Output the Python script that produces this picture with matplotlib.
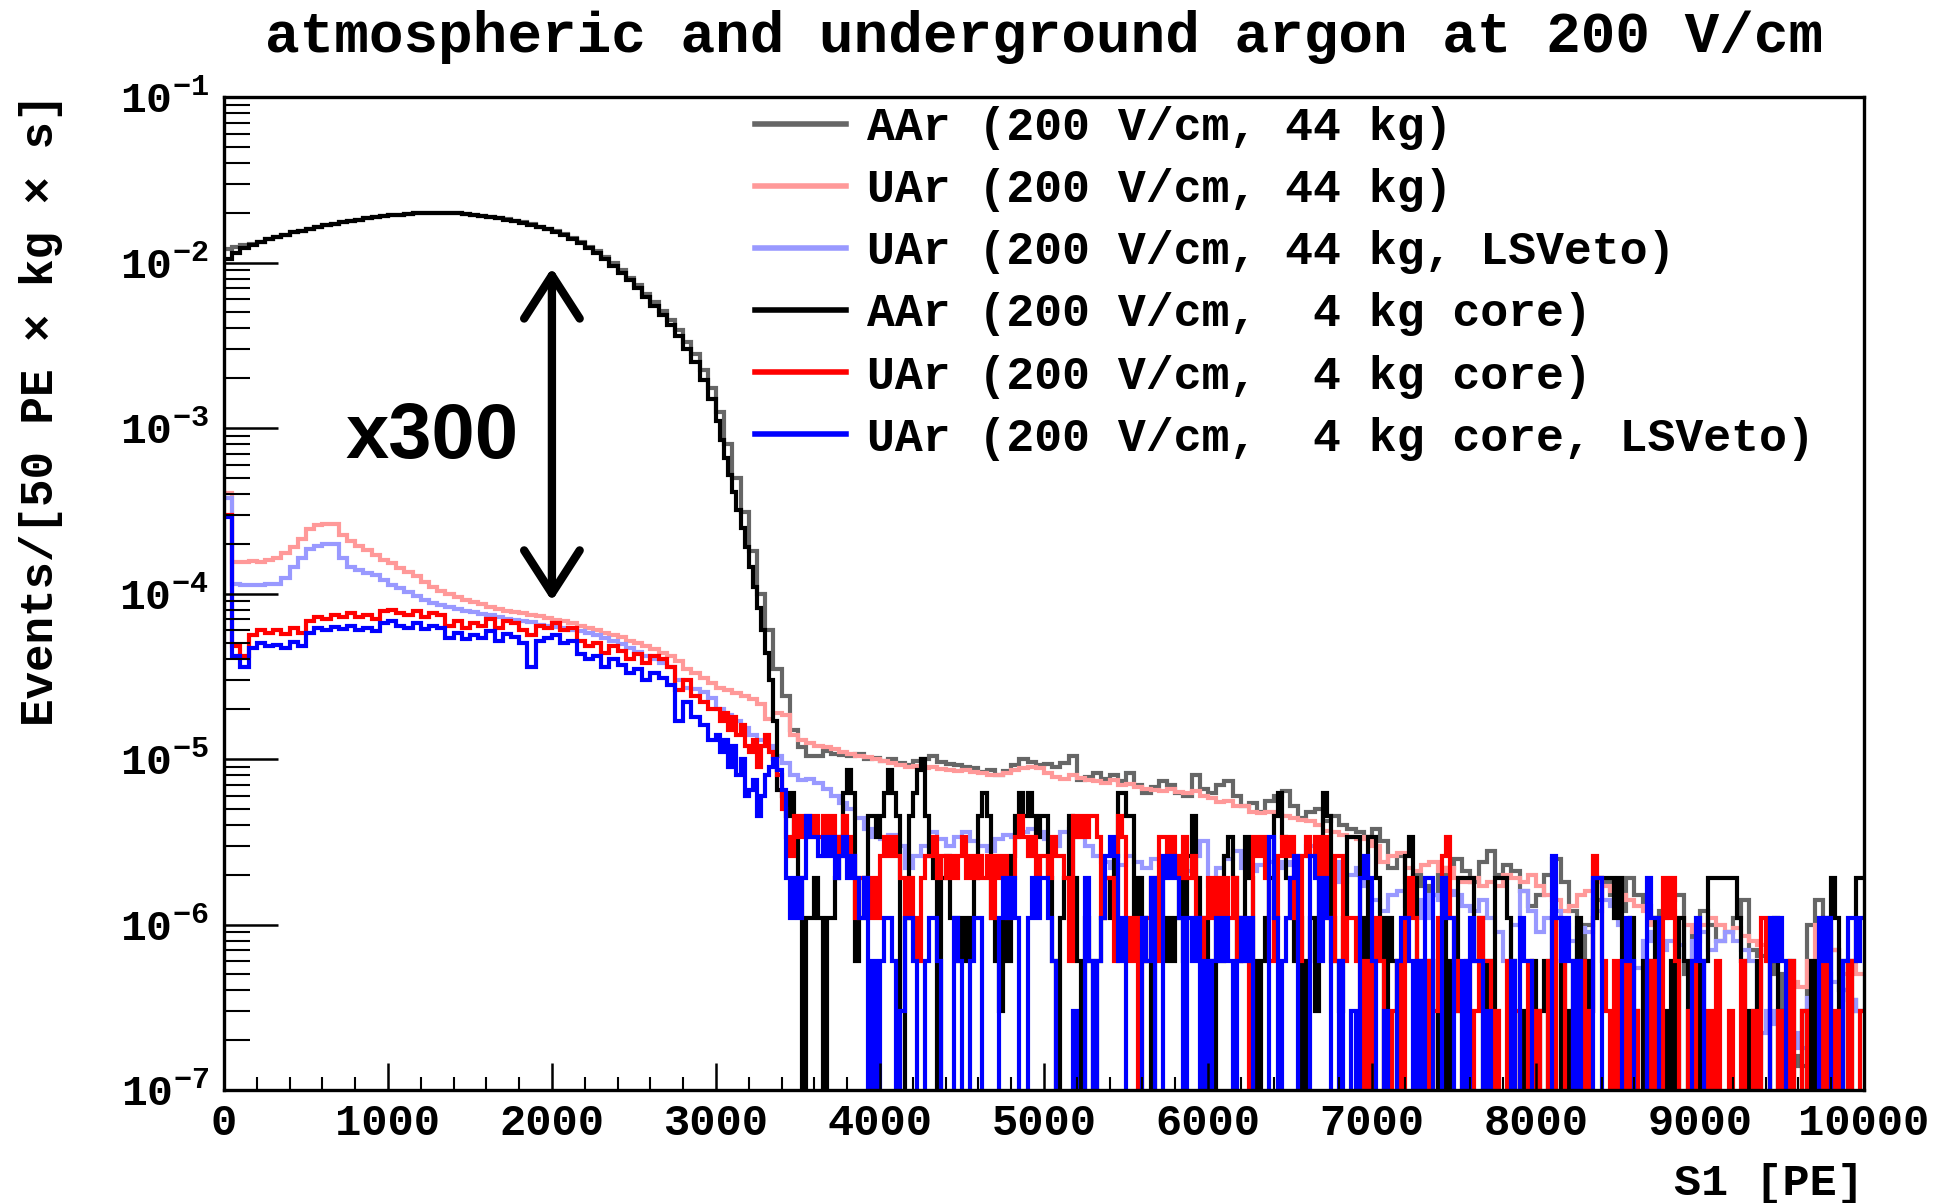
import numpy as np
import matplotlib
matplotlib.use('Agg')
import matplotlib.pyplot as plt
from matplotlib.lines import Line2D
from matplotlib.ticker import MultipleLocator, LogLocator, FuncFormatter, NullFormatter

plt.rcParams['font.family'] = ['Liberation Mono', 'DejaVu Sans']
plt.rcParams['font.weight'] = 'bold'
plt.rcParams['mathtext.fontset'] = 'custom'
plt.rcParams['mathtext.rm'] = 'Liberation Mono:bold'
plt.rcParams['mathtext.bf'] = 'Liberation Mono:bold'
plt.rcParams['mathtext.it'] = 'Liberation Mono:bold'

# all rates in units of 1e-7 events / [50 PE x kg x s]
UNIT = 1e-7

# 44 kg histograms: 50 PE bins, 0 - 10000 PE
aar_44kg = [
    120000, 125000, 127000, 130000, 134000, 138000, 142000, 147000, 152000, 156000,
    160000, 164000, 168000, 172000, 176000, 179000, 182000, 185000, 188000, 191000,
    193000, 195000, 197000, 198000, 199000, 200000, 200000, 199000, 198000, 197000,
    195000, 192000, 189000, 186000, 183000, 179000, 175000, 170000, 165000, 160000,
    155000, 148000, 141000, 133000, 125000, 117000, 108000, 99000, 90000, 81000,
    73000, 65000, 58000, 51000, 45000, 39000, 33000, 28000, 22500, 17500,
    12500, 8000, 5000, 3100, 1800, 1000, 600, 350, 240, 150,
    118, 105, 104, 112, 108, 106, 104, 108, 100, 102,
    97, 100, 95, 92, 98, 100, 104, 96, 94, 92,
    90, 88, 84, 86, 80, 85, 92, 100, 96, 92,
    94, 90, 95, 105, 75, 78, 82, 76, 80, 74,
    82, 70, 62, 68, 74, 70, 62, 60, 80, 66,
    62, 70, 74, 60, 52, 54, 48, 56, 60, 64,
    52, 44, 48, 50, 42, 45, 40, 38, 36, 34,
    38, 32, 22, 26, 18, 20, 17, 15, 20, 22,
    25, 21, 18, 24, 28, 20, 23, 21, 16, 13,
    15, 20, 25, 18, 12, 6, 10, 14, 18, 15,
    12, 19, 15, 13, 11, 12, 14, 15, 5, 9,
    12, 10, 8, 9, 11, 14, 7, 6.5, 7, 5,
    2.5, 1.6, 1.4, 10, 14, 9, 7, 4, 3.5, 3,
]
uar_44kg = [
    4050, 1560, 1560, 1580, 1560, 1600, 1650, 1750, 1900, 2150,
    2450, 2600, 2630, 2630, 2250, 2080, 1950, 1840, 1720, 1600,
    1520, 1420, 1350, 1270, 1180, 1100, 1030, 990, 950, 920,
    890, 860, 830, 810, 790, 775, 760, 745, 730, 710,
    695, 680, 660, 640, 620, 600, 580, 565, 545, 520,
    500, 480, 460, 440, 420, 390, 350, 330, 310, 290,
    270, 260, 250, 240, 230, 215, 175, 190, 185, 140,
    130, 125, 120, 118, 115, 110, 108, 104, 103, 100,
    98, 95, 92, 90, 91, 88, 90, 87, 86, 85,
    86, 84, 82, 80, 80, 82, 86, 88, 90, 88,
    82, 78, 76, 80, 77, 75, 74, 72, 75, 70,
    71, 68, 66, 65, 64, 66, 63, 62, 64, 60,
    58, 55, 56, 52, 52, 48, 47, 48, 46, 45,
    44, 43, 42, 40, 37, 36, 35, 34, 33, 34,
    30, 24, 26, 27, 22, 21, 23, 24, 21, 22,
    19, 18, 19, 17, 18, 17, 20, 19, 18, 20,
    17, 15, 14, 12, 13, 15, 16, 18, 17, 16,
    15, 14, 13, 12, 10, 11, 12, 11, 10, 9,
    10, 11, 10, 9, 9.5, 8.5, 8, 7.5, 7, 6.5,
    6, 4.5, 4.2, 6, 10, 9, 7, 5, 6, 5,
]
uar_44kg_veto = [
    3800, 1150, 1130, 1120, 1130, 1140, 1150, 1240, 1450, 1630,
    1850, 1950, 2000, 2000, 1650, 1450, 1380, 1330, 1290, 1200,
    1120, 1080, 1020, 970, 920, 880, 850, 830, 810, 790,
    770, 750, 740, 720, 700, 690, 680, 670, 650, 640,
    630, 620, 605, 590, 575, 560, 540, 520, 495, 470,
    445, 420, 400, 380, 360, 300, 270, 265, 255, 235,
    200, 185, 170, 155, 140, 130, 120, 105, 95, 80,
    75, 76, 72, 66, 60, 54, 50, 44, 38, 34,
    33, 35, 30, 22, 26, 30, 36, 33, 30, 34,
    36, 32, 30, 28, 33, 35, 34, 36, 38, 36,
    33, 30, 36, 38, 34, 30, 26, 24, 22, 23,
    26, 24, 22, 25, 23, 22, 24, 21, 26, 32,
    17, 22, 25, 28, 22, 21, 23, 24, 22, 24,
    23, 26, 30, 28, 26, 24, 18, 20, 22, 17,
    14, 12, 15, 16, 13, 14, 11, 15, 14, 16,
    15, 13, 12, 14, 11, 9, 6, 10, 16, 12,
    9, 11, 12, 10, 8, 9.5, 9, 12, 14, 13,
    10, 6, 5.5, 8, 9, 7, 8, 7.5, 6, 8,
    9, 7, 8, 9, 8, 7, 6, 2.2, 3, 2.5,
    2.8, 2.2, 1.8, 3.6, 4.3, 5, 4.5, 4, 3.5, 3,
]

# 4 kg core histograms: 50 PE bins up to 3000 PE, 25 PE bins above
aar_core = [
    105000, 115000, 122000, 128000, 133000, 138000, 142000, 147000, 152000, 156000,
    160000, 164000, 168000, 172000, 176000, 179000, 182000, 185000, 188000, 191000,
    193000, 195000, 197000, 198000, 199000, 200000, 200000, 199000, 198000, 197000,
    195000, 192000, 189000, 185000, 182000, 178000, 173000, 168000, 164000, 159000,
    153000, 146000, 139000, 131000, 123000, 114000, 105000, 96000, 87000, 79000,
    70000, 62000, 55000, 48000, 42000, 36000, 30000, 25000, 19500, 15000,
    11000, 8500, 6600, 5200, 4100, 3200, 2500, 1900, 1450, 1100, 820, 600, 440, 300, 170, 65, 60, 45, 62, 34,
    19, 0, 11, 11, 19, 11, 0, 11, 11, 19, 34, 62, 86, 62, 6, 11, 19, 45, 45, 34,
    45, 62, 86, 62, 45, 0, 11, 45, 62, 86, 100, 45, 26, 19, 0, 19, 26, 11, 11, 6,
    11, 6, 11, 19, 45, 62, 45, 11, 6, 3, 11, 6, 26, 45, 62, 45, 62, 45, 34, 45,
    45, 19, 6, 0, 11, 19, 45, 19, 6, 0, 11, 6, 0, 6, 11, 19, 11, 26, 62, 62,
    45, 45, 11, 19, 11, 6, 0, 11, 19, 6, 11, 6, 11, 19, 6, 26, 45, 19, 6, 11,
    6, 0, 11, 6, 26, 34, 19, 6, 11, 34, 19, 6, 0, 6, 11, 19, 45, 62, 34, 19,
    11, 6, 11, 0, 6, 11, 3, 19, 62, 45, 11, 6, 3, 11, 34, 34, 34, 11, 6, 34,
    34, 19, 11, 0, 11, 6, 0, 6, 26, 34, 19, 6, 0, 3, 6, 0, 6, 11, 0, 6,
    3, 19, 19, 19, 19, 6, 11, 0, 6, 3, 19, 19, 19, 11, 6, 0, 3, 0, 0, 6,
    0, 3, 6, 0, 11, 0, 6, 3, 0, 6, 11, 0, 6, 3, 11, 19, 19, 19, 19, 11,
    19, 6, 0, 11, 3, 0, 6, 0, 6, 11, 0, 3, 0, 6, 0, 11, 6, 0, 3, 6,
    0, 6, 19, 19, 19, 19, 19, 19, 19, 11, 6, 0, 3, 0, 6, 0, 0, 6, 11, 0,
    3, 0, 6, 0, 0, 3, 0, 6, 0, 6, 11, 0, 19, 11, 0, 6, 0, 6, 19, 19,
]
uar_core = [
    3000, 480, 420, 560, 600, 580, 600, 570, 620, 580,
    680, 720, 700, 740, 720, 760, 720, 740, 700, 780,
    800, 760, 740, 780, 720, 760, 740, 640, 680, 620,
    660, 640, 700, 620, 680, 660, 600, 560, 640, 620,
    660, 600, 620, 520, 480, 500, 440, 480, 450, 400,
    430, 380, 420, 400, 360, 260, 300, 240, 220, 200,
    200, 170, 190, 150, 180, 140, 160, 120, 110, 130, 90, 120, 140, 110, 100, 80, 50, 34, 26, 45,
    34, 45, 45, 34, 45, 34, 45, 34, 45, 34, 26, 45, 34, 26, 11, 19, 19, 11, 19, 11,
    26, 34, 26, 34, 26, 19, 11, 19, 11, 6, 19, 26, 26, 34, 19, 26, 19, 26, 19, 26,
    34, 19, 26, 19, 26, 19, 26, 11, 26, 19, 26, 11, 19, 34, 45, 34, 26, 34, 19, 26,
    26, 19, 34, 26, 26, 19, 6, 45, 34, 45, 34, 45, 45, 34, 11, 19, 19, 6, 45, 34,
    11, 6, 11, 0, 6, 11, 19, 6, 34, 34, 26, 34, 26, 19, 34, 19, 26, 11, 6, 11,
    19, 11, 19, 11, 19, 11, 19, 6, 11, 6, 0, 34, 26, 34, 19, 6, 11, 26, 34, 26,
    34, 11, 6, 26, 34, 26, 34, 19, 34, 11, 6, 26, 26, 6, 11, 11, 6, 0, 6, 0,
    6, 11, 6, 0, 0, 3, 6, 0, 11, 19, 11, 0, 0, 6, 0, 3, 11, 26, 34, 11,
    6, 3, 0, 6, 0, 3, 11, 6, 6, 0, 3, 0, 0, 6, 0, 3, 0, 0, 6, 0,
    3, 0, 0, 6, 0, 11, 6, 0, 0, 3, 0, 6, 0, 3, 26, 19, 6, 3, 0, 6,
    0, 0, 6, 0, 3, 0, 0, 6, 0, 6, 0, 19, 11, 19, 6, 0, 0, 3, 6, 0,
    0, 0, 3, 0, 6, 0, 0, 3, 0, 0, 6, 0, 0, 3, 0, 11, 6, 0, 0, 3,
    0, 0, 6, 0, 0, 3, 0, 0, 0, 0, 6, 0, 0, 3, 0, 0, 6, 0, 0, 3,
]
uar_core_veto = [
    2900, 420, 360, 470, 500, 480, 490, 470, 510, 480,
    580, 620, 600, 630, 610, 640, 600, 620, 590, 660,
    680, 640, 620, 660, 610, 640, 620, 540, 580, 530,
    560, 540, 590, 520, 570, 550, 500, 360, 520, 540,
    560, 500, 520, 430, 400, 420, 360, 400, 370, 330,
    350, 300, 330, 310, 280, 170, 220, 180, 160, 130,
    140, 110, 130, 90, 120, 80, 100, 60, 65, 75, 45, 60, 80, 90, 100, 86, 65, 19, 11, 19,
    11, 19, 45, 34, 34, 26, 34, 26, 34, 19, 26, 34, 19, 26, 19, 11, 19, 0, 6, 0,
    6, 11, 11, 6, 0, 3, 11, 11, 6, 0, 0, 6, 11, 11, 6, 0, 0, 0, 11, 6,
    0, 0, 6, 11, 11, 0, 0, 0, 0, 11, 19, 11, 19, 11, 0, 0, 11, 19, 11, 19,
    19, 11, 6, 0, 0, 0, 0, 3, 0, 0, 19, 6, 0, 6, 11, 26, 34, 26, 6, 11,
    0, 0, 0, 0, 11, 6, 19, 0, 0, 26, 19, 26, 19, 11, 0, 11, 6, 11, 0, 6,
    0, 6, 11, 6, 11, 6, 0, 6, 11, 6, 11, 0, 0, 0, 0, 34, 11, 0, 6, 11,
    19, 26, 0, 0, 0, 26, 19, 6, 19, 11, 0, 0, 6, 0, 0, 3, 0, 19, 26, 19,
    6, 0, 0, 3, 0, 0, 6, 11, 11, 6, 0, 6, 0, 19, 19, 0, 0, 19, 11, 11,
    0, 0, 6, 0, 11, 6, 6, 0, 3, 0, 0, 0, 0, 0, 6, 0, 11, 6, 6, 0,
    0, 0, 0, 0, 26, 11, 6, 11, 6, 0, 6, 0, 0, 0, 19, 19, 0, 0, 0, 0,
    0, 6, 11, 6, 0, 0, 0, 19, 11, 11, 0, 0, 0, 0, 0, 0, 0, 0, 6, 11,
    6, 0, 0, 0, 0, 0, 0, 0, 0, 0, 0, 0, 0, 0, 0, 0, 0, 11, 6, 11,
    6, 0, 0, 0, 0, 0, 0, 0, 0, 11, 6, 11, 0, 0, 0, 6, 11, 11, 6, 11,
]

labels = ['AAr (200 V/cm, 44 kg)', 'UAr (200 V/cm, 44 kg)', 'UAr (200 V/cm, 44 kg, LSVeto)',
          'AAr (200 V/cm,  4 kg core)', 'UAr (200 V/cm,  4 kg core)',
          'UAr (200 V/cm,  4 kg core, LSVeto)']
colors = ['#666666', '#ff9999', '#9999ff', 'black', 'red', 'blue']

edges_44 = np.arange(0, 10001, 50)
edges_core = np.concatenate([np.arange(0, 3000, 50), np.arange(3000, 10001, 25)])

fig = plt.figure(figsize=(19.42, 12.03), dpi=100)
ax = fig.add_axes([0.1153, 0.0939, 0.8445, 0.8254])

series = [(aar_44kg, edges_44), (uar_44kg, edges_44), (uar_44kg_veto, edges_44),
          (aar_core, edges_core), (uar_core, edges_core), (uar_core_veto, edges_core)]
for (vals, edges), col in zip(series, colors):
    v = np.array(vals, dtype=float) * UNIT
    # empty bins drop to the bottom of the frame like in ROOT
    v = np.where(v > 0, v, 1e-10)
    ax.stairs(v, edges, baseline=None, color=col, lw=3.0)

ax.set_xlim(0, 10000)
ax.set_yscale('log')
ax.set_ylim(1e-7, 1e-1)

ax.xaxis.set_major_locator(MultipleLocator(1000))
ax.xaxis.set_minor_locator(MultipleLocator(200))
ax.yaxis.set_major_locator(LogLocator(base=10, numticks=10))
ax.yaxis.set_minor_locator(LogLocator(base=10, subs=np.arange(2, 10), numticks=20))
ax.yaxis.set_major_formatter(FuncFormatter(lambda y, p: r'$\mathrm{10^{%d}}$' % round(np.log10(y))))
ax.yaxis.set_minor_formatter(NullFormatter())

ax.tick_params(axis='x', which='major', direction='in', length=19.5, width=1.8,
               labelsize=31.5, pad=9, top=False)
ax.tick_params(axis='x', which='minor', direction='in', length=9.5, width=1.5, top=False)
ax.tick_params(axis='y', which='major', direction='in', length=39, width=1.8,
               labelsize=31, pad=11, right=False)
ax.tick_params(axis='y', which='minor', direction='in', length=19, width=1.5, right=False)
for lab in ax.get_xticklabels() + ax.get_yticklabels():
    lab.set_fontweight('bold')
for sp in ax.spines.values():
    sp.set_linewidth(2.4)

handles = [Line2D([], [], color=c, lw=4) for c in colors]
ax.legend(handles, labels, loc='upper left', bbox_to_anchor=(0.3238, 0.991),
          frameon=False, prop={'family': 'Liberation Mono', 'weight': 'bold', 'size': 33.5},
          handlelength=1.95, handletextpad=0.45, labelspacing=0.39,
          borderpad=0, borderaxespad=0)

# x300 ratio marker between the AAr and UAr spectra
ax.annotate('', xy=(2000, 9.3e-3), xytext=(2000, 9.0e-5),
            arrowprops=dict(arrowstyle='<->,head_length=1.55,head_width=1.0',
                            lw=6, color='black', shrinkA=0, shrinkB=0, mutation_scale=20))
ax.text(1270, 8.8e-4, 'x300', ha='center', va='center', fontsize=56,
        family='Liberation Sans', weight='bold')

fig.text(0.5377, 0.969, 'atmospheric and underground argon at 200 V/cm',
         ha='center', va='center', fontsize=41.5, weight='bold')
fig.text(41 / 1942, 1 - 93 / 1203, 'Events/[50 PE × kg × s]', rotation=90,
         ha='center', va='top', fontsize=33, weight='bold')
fig.text(1864 / 1942, 1 - 1183 / 1203, 'S1 [PE]', ha='right', va='center',
         fontsize=32.5, weight='bold')

fig.savefig('out.png', dpi=100)
